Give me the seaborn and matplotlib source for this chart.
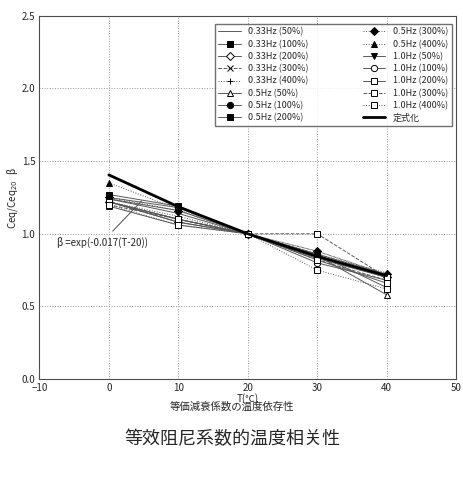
import matplotlib
matplotlib.use("Agg")
import matplotlib.pyplot as plt
import seaborn as sns
import pandas as pd

temps = [0, 10, 20, 30, 40]
names = ['0.33Hz(50%)', '0.33Hz(100%)', '0.33Hz(200%)', '0.33Hz(300%)', '0.33Hz(400%)',
         '0.5Hz(50%)', '0.5Hz(100%)', '0.5Hz(200%)', '0.5Hz(300%)', '0.5Hz(400%)',
         '1.0Hz(50%)', '1.0Hz(100%)', '1.0Hz(200%)', '1.0Hz(300%)', '1.0Hz(400%)']
values = [
    [1.22, 1.10, 1.0, 0.86, 0.72],
    [1.25, 1.18, 1.0, 0.85, 0.70],
    [1.22, 1.08, 1.0, 0.84, 0.70],
    [1.20, 1.10, 1.0, 0.82, 0.68],
    [1.22, 1.12, 1.0, 0.88, 0.72],
    [1.19, 1.06, 1.0, 0.85, 0.58],
    [1.24, 1.16, 1.0, 0.86, 0.63],
    [1.27, 1.19, 1.0, 0.85, 0.70],
    [1.25, 1.16, 1.0, 0.88, 0.72],
    [1.35, 1.17, 1.0, 0.86, 0.73],
    [1.24, 1.14, 1.0, 0.83, 0.70],
    [1.22, 1.10, 1.0, 0.80, 0.68],
    [1.22, 1.08, 1.0, 0.82, 0.66],
    [1.22, 1.10, 1.0, 1.00, 0.70],
    [1.20, 1.06, 1.0, 0.75, 0.62],
]
fit_values = [1.405, 1.186, 1.0, 0.844, 0.712]

styles = [
    ('-', None, 'none'), ('-', 's', 'black'), ('-', 'D', 'white'), ('--', 'x', 'black'),
    (':', '+', 'black'), ('-', '^', 'white'), ('-', 'o', 'black'), ('-', 's', 'black'),
    (':', 'D', 'black'), (':', '^', 'black'), ('-', 'v', 'black'), ('-', 'o', 'white'),
    ('-', 's', 'white'), ('--', 's', 'white'), (':', 's', 'white'),
]

sns.set_style("white")
plt.rcParams['font.family'] = ['Noto Sans CJK JP', 'DejaVu Sans']

fig = plt.figure(figsize=(4.64, 4.93), dpi=100)
ax = fig.add_axes([0.085, 0.231, 0.898, 0.737])

rows = []
for n, v in zip(names, values):
    for t, y in zip(temps, v):
        rows.append({'T': t, 'beta': y, 'series': n})
df = pd.DataFrame(rows)

for (ls, mk, fc), n in zip(styles, names):
    d = df[df.series == n]
    sns.lineplot(data=d, x='T', y='beta', ax=ax, color='0.35', lw=0.7, linestyle=ls,
                 marker=mk, markersize=4.5, markerfacecolor=fc, markeredgecolor='black',
                 markeredgewidth=0.7, label=n.replace('Hz', 'Hz '))
sns.lineplot(x=temps, y=fit_values, ax=ax, color='black', lw=2, label='定式化')

ax.set_xlim(-10, 50)
ax.set_ylim(0, 2.5)
ax.set_xticks(range(-10, 51, 10))
ax.set_yticks([0, 0.5, 1.0, 1.5, 2.0, 2.5])
ax.set_yticklabels(['0.0', '0.5', '1.0', '1.5', '2.0', '2.5'])
ax.tick_params(labelsize=7, length=2, pad=1)
ax.grid(True, linestyle=':', color='0.6', lw=0.7)
for s in ax.spines.values():
    s.set_color('0.3')
    s.set_linewidth(0.8)
ax.set_xlabel('T(℃)', fontsize=7, labelpad=0)
ax.set_ylabel('Ceq/Ceq$_{20}$   β', fontsize=7, labelpad=1)

ax.annotate('β =exp(-0.017(T-20))', xy=(5, 1.24), xytext=(-7.5, 0.92),
            fontsize=7, arrowprops=dict(arrowstyle='-', color='0.3', lw=0.7))

ax.legend(ncol=2, fontsize=6.5, loc='upper right', bbox_to_anchor=(1.0, 0.99),
          frameon=True, edgecolor='0.3', fancybox=False, handlelength=2.5,
          columnspacing=6, labelspacing=0.35, borderpad=0.4)

fig.text(0.5, 0.168, '等価減衰係数の温度依存性', ha='center', fontsize=7.5)
fig.text(0.5, 0.1, '等效阻尼系数的温度相关性', ha='center', fontsize=13)

fig.savefig('out.png', dpi=100)
